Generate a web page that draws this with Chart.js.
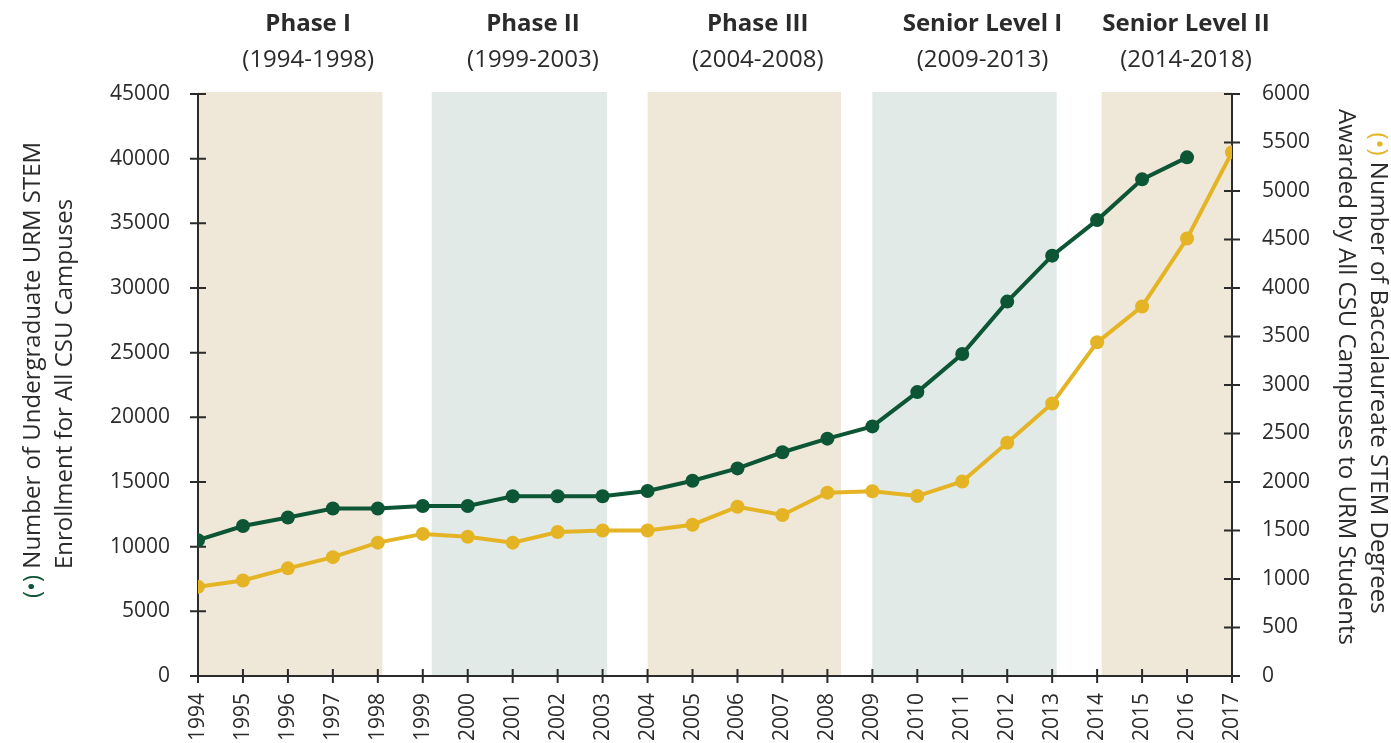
<!DOCTYPE html>
<html lang="en">
<head>
  <meta charset="UTF-8">
  <title>URM STEM Enrollment and Degrees</title>
  <script src="https://cdn.jsdelivr.net/npm/chart.js@4.4.2/dist/chart.umd.min.js"></script>
  <style>
    body { margin: 0; background: #fff; }
    #wrap { width: 1391px; height: 743px; }
  </style>
</head>
<body>
  <div id="wrap"><canvas id="stemChart" width="1391" height="743"></canvas></div>

  <script>
    const years = [1994, 1995, 1996, 1997, 1998, 1999, 2000, 2001, 2002, 2003, 2004, 2005,
                   2006, 2007, 2008, 2009, 2010, 2011, 2012, 2013, 2014, 2015, 2016, 2017];
    const enrollment = [10500, 11600, 12250, 12950, 12950, 13150, 13150, 13900, 13900, 13900, 14300, 15100,
                        16050, 17300, 18350, 19300, 21950, 24900, 28950, 32500, 35250, 38400, 40100, null];
    const degrees = [920, 985, 1110, 1225, 1375, 1465, 1435, 1375, 1485, 1500, 1500, 1560,
                     1745, 1660, 1890, 1905, 1855, 2005, 2405, 2810, 3440, 3810, 4510, 5400];

    const phaseNames = ['Phase I', 'Phase II', 'Phase III', 'Senior Level I', 'Senior Level II'];
    const phaseRanges = ['(1994-1998)', '(1999-2003)', '(2004-2008)', '(2009-2013)', '(2014-2018)'];
    const phaseStart = [1994, 1999, 2004, 2009, 2014];
    const phaseEnd = [1998, 2003, 2008, 2013, 2018];
    // shaded bands as drawn (slightly offset from the nominal years)
    const bandFrom = [1994, 1999.2, 2004, 2009, 2014.1];
    const bandTo = [1998.1, 2003.1, 2008.3, 2013.1, 2017];

    const leftTicks = [0, 5000, 10000, 15000, 20000, 25000, 30000, 35000, 40000, 45000];
    const rightTicks = [0, 500, 1000, 1500, 2000, 2500, 3000, 3500, 4000, 4500, 5000, 5500, 6000];

    const GREEN = '#0c5535';
    const YELLOW = '#e5b425';
    const BEIGE = '#efe7d7';
    const SAGE = '#e1eae6';
    const INK = '#2b2b2b';
    const FONT = "'Open Sans', sans-serif";

    const decor = {
      id: 'decor',
      beforeDatasetsDraw(chart) {
        const { ctx, chartArea: a, scales } = chart;
        const x = scales.x, y = scales.y, y1 = scales.y1;
        ctx.save();
        bandFrom.forEach((f, i) => {
          const x0 = x.getPixelForValue(f);
          const x1 = x.getPixelForValue(bandTo[i]);
          ctx.fillStyle = i % 2 === 0 ? BEIGE : SAGE;
          ctx.fillRect(x0, a.top - 2, x1 - x0, a.bottom - a.top + 2);
        });

        // axes with ticks crossing the line
        ctx.strokeStyle = INK;
        ctx.lineWidth = 2;
        ctx.beginPath();
        ctx.moveTo(a.left, a.top); ctx.lineTo(a.left, a.bottom);
        ctx.moveTo(a.right, a.top); ctx.lineTo(a.right, a.bottom);
        ctx.moveTo(a.left, a.bottom); ctx.lineTo(a.right, a.bottom);
        leftTicks.forEach(v => {
          const p = y.getPixelForValue(v);
          ctx.moveTo(a.left - 8, p); ctx.lineTo(a.left + 8, p);
        });
        rightTicks.forEach(v => {
          const p = y1.getPixelForValue(v);
          ctx.moveTo(a.right - 8, p); ctx.lineTo(a.right + 8, p);
        });
        years.forEach(v => {
          const p = x.getPixelForValue(v);
          ctx.moveTo(p, a.bottom - 7); ctx.lineTo(p, a.bottom + 7);
        });
        ctx.stroke();
        ctx.restore();
      },
      afterDraw(chart) {
        const { ctx, chartArea: a, scales: { x } } = chart;
        ctx.save();
        ctx.textAlign = 'center';
        ctx.textBaseline = 'middle';
        ctx.fillStyle = INK;
        phaseNames.forEach((name, i) => {
          const mid = (phaseStart[i] + phaseEnd[i]) / 2 + 0.45;
          const cx = Math.min(x.getPixelForValue(mid), a.right - 46);
          ctx.font = `700 24px ${FONT}`;
          ctx.fillText(name, cx, 24);
          ctx.font = `400 24px ${FONT}`;
          ctx.fillText(phaseRanges[i], cx, 60);
        });

        // axis titles with coloured markers
        const titleFont = `400 24px ${FONT}`;
        const drawTitle = (lines, marker, color, cx, cy, rot, shift) => {
          ctx.save();
          ctx.translate(cx, cy);
          ctx.rotate(rot);
          ctx.font = titleFont;
          ctx.textBaseline = 'middle';
          ctx.textAlign = 'left';
          const mw = ctx.measureText(marker + ' ').width;
          const w1 = mw + ctx.measureText(lines[0]).width;
          const sx = -w1 / 2;
          ctx.fillStyle = color;
          ctx.fillText(marker, sx, 0);
          ctx.fillStyle = INK;
          ctx.fillText(lines[0], sx + mw, 0);
          ctx.textAlign = 'center';
          ctx.fillText(lines[1], shift, 32);
          ctx.restore();
        };
        const midY = (a.top + a.bottom) / 2;
        drawTitle(['Number of Undergraduate URM STEM', 'Enrollment for All CSU Campuses'],
                  '(•)', GREEN, 33, midY - 15, -Math.PI / 2, -14);
        drawTitle(['Number of Baccalaureate STEM Degrees', 'Awarded by All CSU Campuses to URM Students'],
                  '(•)', YELLOW, 1378, midY - 12, Math.PI / 2, 4);
        ctx.restore();
      }
    };

    const tickFont = { family: FONT, size: 21 };

    new Chart(document.getElementById('stemChart'), {
      type: 'line',
      data: {
        datasets: [{
          label: 'Undergraduate URM STEM Enrollment',
          data: years.map((yr, i) => ({ x: yr, y: enrollment[i] })),
          yAxisID: 'y',
          borderColor: GREEN,
          backgroundColor: GREEN,
          borderWidth: 4,
          pointRadius: 7,
          pointBorderWidth: 0,
          spanGaps: false
        }, {
          label: 'Baccalaureate STEM Degrees to URM Students',
          data: years.map((yr, i) => ({ x: yr, y: degrees[i] })),
          yAxisID: 'y1',
          borderColor: YELLOW,
          backgroundColor: YELLOW,
          borderWidth: 4,
          pointRadius: 7,
          pointBorderWidth: 0
        }]
      },
      options: {
        responsive: false,
        animation: false,
        layout: { padding: { top: 94, left: 0, right: 0, bottom: 0 } },
        plugins: {
          legend: { display: false },
          tooltip: { enabled: false }
        },
        scales: {
          x: {
            type: 'linear',
            min: 1994,
            max: 2017,
            grid: { display: false },
            border: { display: false },
            afterBuildTicks: s => { s.ticks = years.map(v => ({ value: v })); },
            afterFit: s => { s.height = 67; },
            ticks: {
              autoSkip: false,
              minRotation: 90,
              maxRotation: 90,
              padding: 9,
              color: INK,
              font: tickFont,
              callback: v => String(v)
            }
          },
          y: {
            position: 'left',
            min: 0,
            max: 45000,
            grid: { display: false },
            border: { display: false },
            afterBuildTicks: s => { s.ticks = leftTicks.map(v => ({ value: v })); },
            afterFit: s => { s.width = 198; },
            ticks: { padding: 20, color: INK, font: tickFont, callback: v => String(v) }
          },
          y1: {
            position: 'right',
            min: 0,
            max: 6000,
            grid: { display: false },
            border: { display: false },
            afterBuildTicks: s => { s.ticks = rightTicks.map(v => ({ value: v })); },
            afterFit: s => { s.width = 159; },
            ticks: { padding: 22, color: INK, font: tickFont, callback: v => String(v) }
          }
        }
      },
      plugins: [decor]
    });
  </script>
</body>
</html>
